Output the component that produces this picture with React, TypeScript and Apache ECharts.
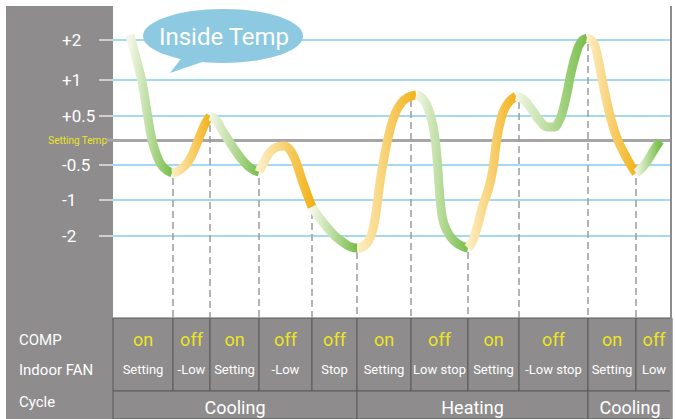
import React, { useEffect, useRef } from 'react';
import * as echarts from 'echarts';

const FONT = "Roboto, 'Noto Sans', sans-serif";

// y-axis level labels and their positions on the diagram's level scale
const yTickLabels = ['+2', '+1', '+0.5', 'Setting Temp', '-0.5', '-1', '-2'];
const yTickPos = [27.8, 23.8, 20.2, 17.8, 15.3, 11.8, 8.2];
const settingTempPos = 17.8;

// phases along the time axis
const phaseBounds = [0, 6.0, 9.7, 14.6, 19.9, 24.4, 29.8, 35.5, 40.6, 47.5, 52.3, 55.9];
const compStates = ['on', 'off', 'on', 'off', 'off', 'on', 'off', 'on', 'off', 'on', 'off'];
const fanStates = ['Setting', '-Low', 'Setting', '-Low', 'Stop', 'Setting', 'Low stop', 'Setting', '-Low stop', 'Setting', 'Low'];
const cycleNames = ['Cooling', 'Heating', 'Cooling'];
const cycleBounds = [0, 24.4, 47.5, 55.9];
const rowHeaders = ['COMP', 'Indoor FAN', 'Cycle'];

// level where each dashed phase marker meets the curve (phaseBounds[1..10])
const dashStartLevels = [14.0, 19.3, 14.0, 10.6, 6.6, 21.8, 6.6, 21.6, 27.4, 14.0];

// inside temperature curve, in segments [time, level]
const seg1 = [[1.7, 28.3], [2.3, 26.0], [2.9, 23.6], [3.4, 20.6], [3.9, 17.8], [4.4, 16.2], [5.0, 15.1], [5.9, 14.5]];
const seg2 = [[5.9, 14.5], [6.7, 14.8], [7.5, 15.6], [8.2, 17.0], [8.8, 18.5], [9.3, 19.6], [9.7, 20.2]];
const seg3 = [[9.7, 20.2], [10.3, 19.8], [10.9, 18.8], [11.6, 17.7], [12.4, 16.5], [13.2, 15.5], [13.9, 14.9], [14.6, 14.6]];
const seg4 = [[14.6, 14.6], [15.1, 15.6], [15.7, 16.6], [16.4, 17.1], [17.1, 17.2], [17.7, 16.8], [18.3, 15.6], [18.9, 13.8], [19.4, 12.4], [19.9, 11.1]];
const seg5 = [[19.9, 11.1], [20.5, 10.2], [21.3, 9.2], [22.2, 8.2], [23.1, 7.5], [23.8, 7.1], [24.4, 7.0]];
const seg6 = [[24.4, 7.0], [25.1, 7.2], [25.7, 8.0], [26.1, 9.4], [26.4, 11.3], [26.7, 13.6], [27.1, 16.0], [27.6, 18.4], [28.2, 20.4], [28.9, 21.6], [29.6, 22.1], [30.3, 22.3]];
const seg7 = [[30.3, 22.3], [31.0, 21.9], [31.6, 20.7], [32.1, 18.6], [32.4, 16.0], [32.6, 13.3], [32.8, 11.0], [33.1, 9.4], [33.7, 8.2], [34.5, 7.4], [35.5, 7.0]];
const seg8 = [[35.5, 7.0], [36.0, 7.8], [36.5, 9.4], [37.0, 11.3], [37.6, 13.1], [38.0, 15.0], [38.3, 17.3], [38.7, 19.5], [39.3, 21.2], [40.3, 22.2]];
const seg9 = [[40.3, 22.2], [41.1, 21.8], [41.9, 20.8], [42.7, 19.7], [43.5, 19.1], [44.1, 19.1], [44.6, 19.7], [45.0, 20.8], [45.4, 22.5], [45.8, 24.5], [46.3, 26.4], [46.8, 27.6], [47.4, 28.0]];
const seg10 = [[47.4, 28.0], [48.0, 27.6], [48.4, 26.4], [48.8, 24.4], [49.3, 22.0], [49.8, 19.9], [50.4, 18.0], [51.1, 16.5], [51.7, 15.4], [52.3, 14.5]];
const seg11 = [[52.3, 14.5], [52.9, 15.0], [53.5, 15.8], [54.1, 16.8], [54.7, 17.7]];
const segments = [seg1, seg2, seg3, seg4, seg5, seg6, seg7, seg8, seg9, seg10, seg11];
const segmentKinds = ['cool', 'warm', 'cool', 'warm', 'cool', 'warm', 'cool', 'warm', 'cool', 'warm', 'cool'];

const Y_MIN = -10.1;
const Y_MAX = 31.2;
const TABLE_MID = -7.3;

const GRAY = '#8e8c8d';
const YELLOW = '#ede51e';

function gradFor(kind: string) {
  return kind === 'cool'
    ? new echarts.graphic.LinearGradient(0, 0, 1, 0, [
        { offset: 0, color: '#f3f6e6' },
        { offset: 1, color: '#77be49' },
      ])
    : new echarts.graphic.LinearGradient(0, 0, 1, 0, [
        { offset: 0, color: '#fdeec6' },
        { offset: 1, color: '#f2b21a' },
      ]);
}

export default function App() {
  const ref = useRef<HTMLDivElement>(null);
  useEffect(() => {
    if (!ref.current) return;
    const chart = echarts.init(ref.current, null, { renderer: 'svg' });

    const levelLines = yTickPos
      .filter((p) => p !== settingTempPos)
      .map((p) => ({ yAxis: p }));

    const dashLines = dashStartLevels.map((lv, i) => [
      { coord: [phaseBounds[i + 1], lv] },
      { coord: [phaseBounds[i + 1], 0] },
    ]);

    const cellAreas = compStates.map((c, i) => [
      { name: c + '|' + fanStates[i], xAxis: phaseBounds[i], yAxis: 0 },
      { xAxis: phaseBounds[i + 1], yAxis: TABLE_MID },
    ]);

    const cycleAreas = cycleNames.map((n, i) => [
      { name: n, xAxis: cycleBounds[i], yAxis: TABLE_MID },
      { xAxis: cycleBounds[i + 1], yAxis: Y_MIN },
    ]);

    const curveSeries = segments.map((seg, i) => ({
      type: 'line',
      data: seg,
      smooth: true,
      symbol: 'none',
      showSymbol: false,
      silent: true,
      z: 5,
      lineStyle: { width: 9, color: gradFor(segmentKinds[i]), cap: 'butt', join: 'round' },
    }));

    const option: any = {
      animation: false,
      backgroundColor: '#ffffff',
      grid: { left: 113, right: 3, top: 6, bottom: 0, show: true, backgroundColor: '#ffffff', borderWidth: 0 },
      xAxis: {
        type: 'value',
        min: 0,
        max: 55.9,
        show: false,
      },
      yAxis: {
        type: 'value',
        min: Y_MIN,
        max: Y_MAX,
        z: 10,
        axisLine: { show: false },
        splitLine: { show: false },
        axisTick: {
          show: true,
          customValues: yTickPos.filter((p) => p !== settingTempPos),
          length: 14,
          lineStyle: { color: '#e6e6e6', width: 1.5 },
        },
        axisLabel: {
          show: true,
          customValues: yTickPos,
          margin: 6,
          formatter: (v: number) => {
            const idx = yTickPos.findIndex((p) => Math.abs(p - v) < 0.001);
            if (idx < 0) return '';
            const t = yTickLabels[idx];
            return yTickPos[idx] === settingTempPos ? '{s|' + t + '}' : '{a|' + t + '}';
          },
          rich: {
            a: { width: 38, padding: [0, 7, 0, 0], align: 'left', color: '#ffffff', fontSize: 17, fontFamily: FONT },
            s: { color: YELLOW, fontSize: 10, fontFamily: FONT },
          },
        },
      },
      graphic: {
        elements: [
          { type: 'rect', z: -10, silent: true, shape: { x: 6, y: 6, width: 107, height: 413 }, style: { fill: GRAY } },
          { type: 'rect', z: 50, silent: true, shape: { x: 670, y: 6, width: 2, height: 413 }, style: { fill: GRAY } },
          { type: 'rect', z: 50, silent: true, shape: { x: 106, y: 138.5, width: 7, height: 3 }, style: { fill: '#a7a5a6' } },
          ...rowHeaders.map((h, i) => ({
            type: 'text',
            z: 50,
            silent: true,
            x: 19,
            y: [340, 370, 402][i],
            style: { text: h, fill: '#ffffff', font: '15px ' + FONT, textVerticalAlign: 'middle', verticalAlign: 'middle' },
          })),
          { type: 'ellipse', z: 50, silent: true, shape: { cx: 223, cy: 36, rx: 80, ry: 27 }, style: { fill: '#8dc9e0' } },
          { type: 'polygon', z: 50, silent: true, shape: { points: [[184, 55], [170, 73], [208, 60]] }, style: { fill: '#8dc9e0' } },
          {
            type: 'text',
            z: 51,
            silent: true,
            x: 224,
            y: 37,
            style: {
              text: 'Inside Temp',
              fill: '#ffffff',
              font: '24px ' + FONT,
              textAlign: 'center',
              align: 'center',
              textVerticalAlign: 'middle',
              verticalAlign: 'middle',
            },
          },
        ],
      },
      series: [
        {
          type: 'line',
          data: [],
          silent: true,
          z: 1,
          markLine: {
            silent: true,
            symbol: ['none', 'none'],
            label: { show: false },
            lineStyle: { color: '#86cdee', width: 1.5, type: 'solid' },
            data: levelLines,
          },
        },
        {
          type: 'line',
          data: [],
          silent: true,
          z: 2,
          markLine: {
            silent: true,
            symbol: ['none', 'none'],
            label: { show: false },
            lineStyle: { color: '#a7a5a6', width: 3, type: 'solid' },
            data: [{ yAxis: settingTempPos }],
          },
        },
        {
          type: 'line',
          data: [],
          silent: true,
          z: 3,
          markLine: {
            silent: true,
            symbol: ['none', 'none'],
            label: { show: false },
            lineStyle: { color: '#9c9c9c', width: 1.5, type: [7, 4] },
            data: dashLines,
          },
        },
        ...curveSeries,
        {
          type: 'line',
          data: [],
          silent: true,
          z: 8,
          markArea: {
            silent: true,
            itemStyle: { color: GRAY, borderColor: '#5b5a5a', borderWidth: 1 },
            label: {
              show: true,
              position: 'inside',
              formatter: (p: any) => {
                const [c, f] = String(p.name).split('|');
                return '{c|' + c + '}\n{f|' + f + '}';
              },
              rich: {
                c: { color: YELLOW, fontSize: 18, lineHeight: 30, fontFamily: FONT, align: 'center' },
                f: { color: '#ffffff', fontSize: 13, lineHeight: 30, fontFamily: FONT, align: 'center' },
              },
            },
            data: cellAreas,
          },
        },
        {
          type: 'line',
          data: [],
          silent: true,
          z: 8,
          markArea: {
            silent: true,
            itemStyle: { color: GRAY, borderColor: '#5b5a5a', borderWidth: 1 },
            label: {
              show: true,
              position: 'inside',
              color: '#ffffff',
              fontSize: 18,
              fontFamily: FONT,
              offset: [0, 2],
            },
            data: cycleAreas,
          },
        },
      ],
    };

    chart.setOption(option);
    return () => chart.dispose();
  }, []);

  return (
    <div
      ref={ref}
      style={{ position: 'absolute', left: 0, top: 0, width: 675, height: 419 }}
    />
  );
}
